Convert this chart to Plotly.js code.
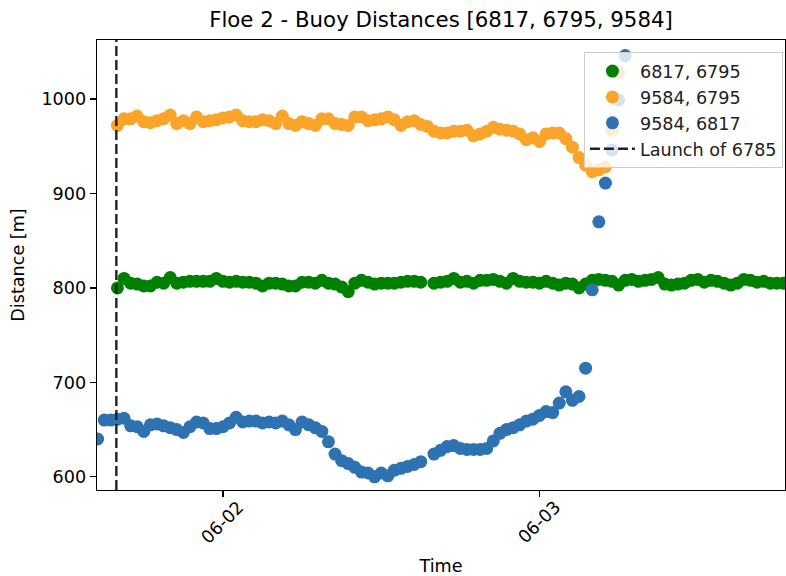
<!DOCTYPE html>
<html>
<head>
<meta charset="utf-8">
<script src="https://cdn.plot.ly/plotly-3.0.1.min.js"></script>
<style>
  html, body { margin: 0; padding: 0; background: #fff; }
  #chart { width: 786px; height: 576px; }
</style>
</head>
<body>
<div id="chart"></div>
<script>
// Half-hourly samples of pairwise buoy distances on Floe 2 (metres).
const sampleStart = Date.UTC(2022, 5, 1, 14, 30);   // first sample, 06-01 14:30
const sampleStepMinutes = 30;

// 6817 <-> 6795
const dist_6817_6795 = [
  null, null, null,
  800, 810, 805, 804, 802, 802, 806, 805, 811, 805,
  806, 807, 807, 807, 807, 810, 807, 806, 807, 806,
  806, 805, 802, 805, 805, 804, 802, 802, 806, 806,
  805, 808, 805, 804, 801, 796, 805, 808, 806, 804,
  805, 805, 805, 806, 807, 807, 806, null, 805, 806,
  807, 810, 806, 807, 805, 808, 808, 809, 807, 805,
  810, 807, 806, 806, 805, 807, 805, 803, 805, 804,
  800, 804, 808, 809, 808, 807, 803, 808, 809, 807,
  808, 809, 811, 804, 803, 804, 805, 808, 809, 806,
  808, 807, 805, 803, 805, 809, 808, 806, 807, 805,
  805, 805
];

// 9584 <-> 6795
const dist_9584_6795 = [
  null, null, null,
  972, 979, 979, 982, 976, 975, 977, 979, 983, 974,
  977, 974, 981, 976, 977, 978, 980, 981, 983, 977,
  976, 976, 978, 977, 974, 982, 974, 972, 976, 974,
  972, 979, 979, 974, 973, 972, 981, 981, 977, 978,
  979, 981, 978, 972, 976, 977, 973, 971, 966, 964,
  964, 966, 966, 967, 961, 963, 966, 970, 968, 967,
  966, 963, 957, 959, 955, 963, 964, 964, 958, 949,
  938, 930, 923, 925, 928, 967, 1028
];

// 9584 <-> 6817
const dist_9584_6817 = [
  640, 660, 660, 661, 662, 654, 653, 648, 655, 656,
  654, 652, 650, 647, 653, 658, 657, 651, 651, 653,
  657, 663, 658, 659, 659, 657, 658, 657, 659, 655,
  650, 658, 655, 652, 648, 637, 624, 617, 614, 610,
  605, 604, 600, 604, 601, 607, 609, 611, 613, 616,
  null, 624, 628, 632, 633, 630, 629, 629, 629, 630,
  638, 646, 650, 652, 655, 659, 661, 665, 669, 668,
  678, 690, 681, 685, 715, 798, 870, 911, 946, 999,
  1046
];

const seriesNames = ['6817, 6795', '9584, 6795', '9584, 6817'];
const seriesColors = ['#008000', '#FAA52A', '#2E72B2'];

const launchTime = '2022-06-01 15:55';
const launchLabel = 'Launch of 6785';

const dayTicks = ['2022-06-02', '2022-06-03'];
const dayTickText = ['06-02', '06-03'];
const distanceTicks = [600, 700, 800, 900, 1000];

function sampleTime(i) {
  const d = new Date(sampleStart + i * sampleStepMinutes * 60000);
  const p = n => String(n).padStart(2, '0');
  return d.getUTCFullYear() + '-' + p(d.getUTCMonth() + 1) + '-' + p(d.getUTCDate()) +
         ' ' + p(d.getUTCHours()) + ':' + p(d.getUTCMinutes());
}

const FONT = 'DejaVu Sans, sans-serif';
const TXT = 17.6;

const seriesValues = [dist_6817_6795, dist_9584_6795, dist_9584_6817];
const traces = seriesValues.map((vals, k) => ({
  type: 'scatter',
  mode: 'markers',
  name: seriesNames[k],
  legendgroup: 'g' + k,
  legendrank: k + 1,
  x: vals.map((_, i) => sampleTime(i)),
  y: vals,
  marker: { color: seriesColors[k], size: 13, line: { width: 0 } },
  cliponaxis: true,
  hoverinfo: 'skip'
}));

const tickLabelNotes = dayTicks.map((t, k) => ({
  x: t, xref: 'x',
  y: -0.072, yref: 'paper',
  text: dayTickText[k],
  textangle: -45,
  showarrow: false,
  xanchor: 'center', yanchor: 'middle',
  font: { family: FONT, size: TXT, color: '#000' }
}));

const layout = {
  width: 786,
  height: 576,
  margin: { l: 97, r: 1, t: 40, b: 86 },
  paper_bgcolor: '#ffffff',
  plot_bgcolor: '#ffffff',
  font: { family: FONT, size: TXT, color: '#000' },
  title: {
    text: 'Floe 2 - Buoy Distances [6817, 6795, 9584]',
    font: { family: FONT, size: 21.3, color: '#000' },
    x: 0.5, xref: 'paper',
    y: 1 - 20 / 576, yref: 'container', yanchor: 'middle'
  },
  xaxis: {
    type: 'date',
    range: ['2022-06-01 14:27', '2022-06-03 18:37'],
    tickmode: 'array',
    tickvals: dayTicks,
    showticklabels: false,
    ticks: 'outside', ticklen: 6, tickwidth: 1.3, tickcolor: '#000',
    showline: true, linecolor: '#000', linewidth: 1.3, mirror: true,
    showgrid: false, zeroline: false,
    title: { text: 'Time', font: { family: FONT, size: TXT, color: '#000' }, standoff: 64 }
  },
  yaxis: {
    range: [586, 1062.5],
    tickmode: 'array',
    tickvals: distanceTicks,
    ticks: 'outside', ticklen: 6, tickwidth: 1.3, tickcolor: '#000',
    tickfont: { family: FONT, size: TXT, color: '#000' },
    showline: true, linecolor: '#000', linewidth: 1.3, mirror: true,
    showgrid: false, zeroline: false,
    title: { text: 'Distance [m]', font: { family: FONT, size: TXT, color: '#000' }, standoff: 12 }
  },
  shapes: [{
    type: 'line',
    xref: 'x', yref: 'paper',
    x0: launchTime, x1: launchTime, y0: 0, y1: 1,
    line: { color: '#222', width: 2.4, dash: '10px,4px' },
    layer: 'above',
    showlegend: true,
    name: launchLabel,
    legendgroup: 'g3',
    legendrank: 4
  }],
  annotations: tickLabelNotes,
  showlegend: true,
  legend: {
    x: 0.997, xanchor: 'right',
    y: 0.973, yanchor: 'top',
    bgcolor: 'rgba(255,255,255,0.8)',
    bordercolor: '#cccccc', borderwidth: 1,
    font: { family: FONT, size: TXT, color: '#222' },
    itemwidth: 45,
    tracegroupgap: 3,
    traceorder: 'normal'
  },
  hovermode: false
};

Plotly.newPlot('chart', traces, layout, { displayModeBar: false, staticPlot: true });
</script>
</body>
</html>
